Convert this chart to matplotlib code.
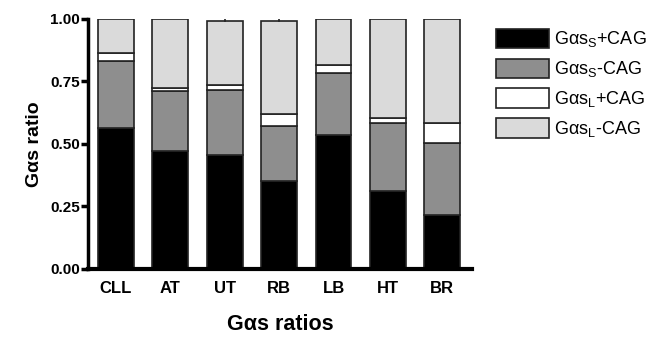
import matplotlib
matplotlib.use("Agg")
import matplotlib.pyplot as plt
import numpy as np

plt.rcParams['font.family'] = ['Liberation Sans', 'DejaVu Sans']
plt.rcParams['mathtext.fontset'] = 'custom'
plt.rcParams['mathtext.rm'] = 'Liberation Sans'
plt.rcParams['mathtext.it'] = 'Liberation Sans:italic'
plt.rcParams['mathtext.bf'] = 'Liberation Sans:bold'

# data
tissues = ["CLL", "AT", "UT", "RB", "LB", "HT", "BR"]
ss_plus = [0.565, 0.473, 0.455, 0.353, 0.535, 0.312, 0.216]
ss_minus = [0.268, 0.239, 0.260, 0.219, 0.250, 0.271, 0.288]
sl_plus = [0.032, 0.013, 0.021, 0.048, 0.030, 0.020, 0.079]
sl_minus = [0.135, 0.275, 0.254, 0.370, 0.185, 0.397, 0.417]
top_err = [0.0, 0.0, 0.012, 0.012, 0.0, 0.0, 0.0]

labels = ["Gαs$_\\mathrm{S}$+CAG", "Gαs$_\\mathrm{S}$-CAG",
          "Gαs$_\\mathrm{L}$+CAG", "Gαs$_\\mathrm{L}$-CAG"]
colors = ["#000000", "#8e8e8e", "#ffffff", "#dadada"]

fig = plt.figure(figsize=(6.47, 3.37), dpi=100)
ax = fig.add_axes([0.136, 0.202, 0.593, 0.742])

x = np.arange(len(tissues))
series = [ss_plus, ss_minus, sl_plus, sl_minus]
bottom = np.zeros(len(tissues))
for vals, c, lab in zip(series, colors, labels):
    ax.bar(x, vals, 0.66, bottom=bottom, color=c, edgecolor="#222222",
           linewidth=1.2, label=lab, zorder=2)
    bottom = bottom + np.array(vals)

# little error ticks on top of some bars
for xi, b, e in zip(x, bottom, top_err):
    if e > 0:
        ax.plot([xi, xi], [b, b + e], color="#222222", lw=1.2, zorder=3)

ax.set_xlim(-0.515, 6.54)
ax.set_ylim(0, 1.0)
ax.set_yticks([0, 0.25, 0.5, 0.75, 1.0])
ax.set_yticklabels(["0.00", "0.25", "0.50", "0.75", "1.00"])
ax.set_xticks(x)
ax.set_xticklabels(tissues)
ax.tick_params(axis="y", length=5, width=2.5, labelsize=11, pad=1)
ax.tick_params(axis="x", length=0, labelsize=12, pad=9)
for t in ax.get_xticklabels() + ax.get_yticklabels():
    t.set_fontweight("bold")

ax.spines["top"].set_visible(False)
ax.spines["right"].set_visible(False)
ax.spines["left"].set_linewidth(2.5)
ax.spines["bottom"].set_linewidth(3)

ax.set_ylabel("Gαs ratio", fontsize=14, fontweight="bold", labelpad=5)
ax.set_xlabel("Gαs ratios", fontsize=15.5, fontweight="bold", labelpad=13)

ax.legend(loc="upper left", bbox_to_anchor=(1.045, 0.99), frameon=False,
          fontsize=13, handlelength=2.9, handleheight=1.3,
          handletextpad=0.3, labelspacing=0.5, borderaxespad=0)

fig.savefig("out.png", dpi=100)
